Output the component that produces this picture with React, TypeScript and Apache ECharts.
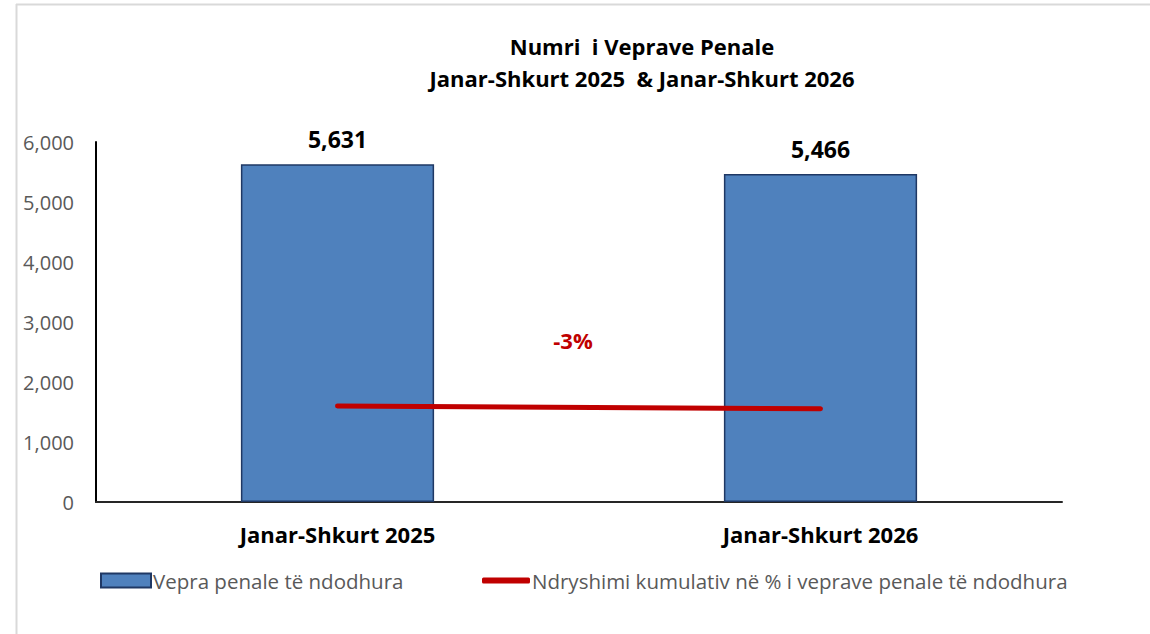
import React, { useEffect, useRef } from "react";
import * as echarts from "echarts";

const categories = ["Janar-Shkurt 2025", "Janar-Shkurt 2026"];
const offences = [5631, 5466];
const cumulativeIndex = [100, 97.1];
const yTicks = [0, 1000, 2000, 3000, 4000, 5000, 6000];
const changeLabel = "-3%";
const titleLines = ["Numri  i Veprave Penale", "Janar-Shkurt 2025  & Janar-Shkurt 2026"];
const seriesNames = ["Vepra penale të ndodhura", "Ndryshimi kumulativ në % i veprave penale të ndodhura"];

const FONT = "'Open Sans', 'Noto Sans', sans-serif";

export default function App() {
  const ref = useRef<HTMLDivElement>(null);
  useEffect(() => {
    document.body.style.margin = "0";
    const chart = echarts.init(ref.current!, null, { renderer: "svg" });
    const legendText = { fontFamily: FONT, fontSize: 20.5, color: "#595959", padding: [0, 0, 0, -3] };
    chart.setOption({
      animation: false,
      backgroundColor: "#ffffff",
      title: {
        text: titleLines.join("\n"),
        left: 637,
        top: 25,
        textAlign: "center",
        textStyle: { fontFamily: FONT, fontWeight: "bold", fontSize: 22, color: "#000000", lineHeight: 32 },
      },
      grid: { left: 96, right: 88, top: 142, bottom: 132, containLabel: false },
      legend: [
        {
          top: 570,
          left: 100,
          padding: 0,
          itemWidth: 50,
          itemHeight: 14,
          textStyle: legendText,
          data: [{ name: seriesNames[0], icon: "rect" }],
        },
        {
          top: 570,
          left: 482,
          padding: 0,
          itemWidth: 48,
          itemHeight: 6,
          textStyle: legendText,
          data: [{ name: seriesNames[1], icon: "roundRect", itemStyle: { color: "#c00000" } }],
        },
      ],
      xAxis: {
        type: "category",
        data: categories,
        axisLine: { lineStyle: { color: "#262626", width: 2 } },
        axisTick: { show: false },
        axisLabel: { fontFamily: FONT, fontWeight: "bold", fontSize: 22, color: "#000000", margin: 21 },
      },
      yAxis: [
        {
          type: "value",
          min: yTicks[0],
          max: yTicks[yTicks.length - 1],
          interval: 1000,
          axisLine: { show: true, lineStyle: { color: "#000000", width: 2 } },
          axisTick: { show: false },
          splitLine: { show: false },
          axisLabel: {
            fontFamily: FONT,
            fontSize: 20,
            color: "#595959",
            margin: 22,
            formatter: (v: number) => v.toLocaleString("en-US"),
          },
        },
        { type: "value", min: 0, max: 375, show: false, splitLine: { show: false } },
      ],
      series: [
        {
          name: seriesNames[0],
          type: "bar",
          data: offences,
          barWidth: "40%",
          itemStyle: { color: "#4f81bd", borderColor: "#1f3864", borderWidth: 1.5 },
          label: {
            show: true,
            position: "top",
            distance: 14,
            fontFamily: FONT,
            fontWeight: "bold",
            fontSize: 23,
            color: "#000000",
            formatter: (p: any) => Number(p.value).toLocaleString("en-US"),
          },
        },
        {
          name: seriesNames[1],
          type: "line",
          yAxisIndex: 1,
          data: cumulativeIndex,
          symbol: "none",
          lineStyle: { color: "#c00000", width: 5, cap: "round" },
          itemStyle: { color: "#c00000" },
        },
      ],
      graphic: [
        { type: "line", shape: { x1: 16.5, y1: 4, x2: 16.5, y2: 634 }, style: { stroke: "#d9d9d9", lineWidth: 2 } },
        { type: "line", shape: { x1: 16, y1: 4.5, x2: 1150, y2: 4.5 }, style: { stroke: "#d9d9d9", lineWidth: 2 } },
        {
          type: "text",
          x: 573,
          y: 340,
          style: {
            text: changeLabel,
            fontFamily: FONT,
            fontWeight: "bold",
            fontSize: 22,
            fill: "#c00000",
            align: "center",
            verticalAlign: "middle",
          },
        },
      ],
    });
    return () => chart.dispose();
  }, []);
  return <div ref={ref} style={{ width: 1150, height: 634 }} />;
}
